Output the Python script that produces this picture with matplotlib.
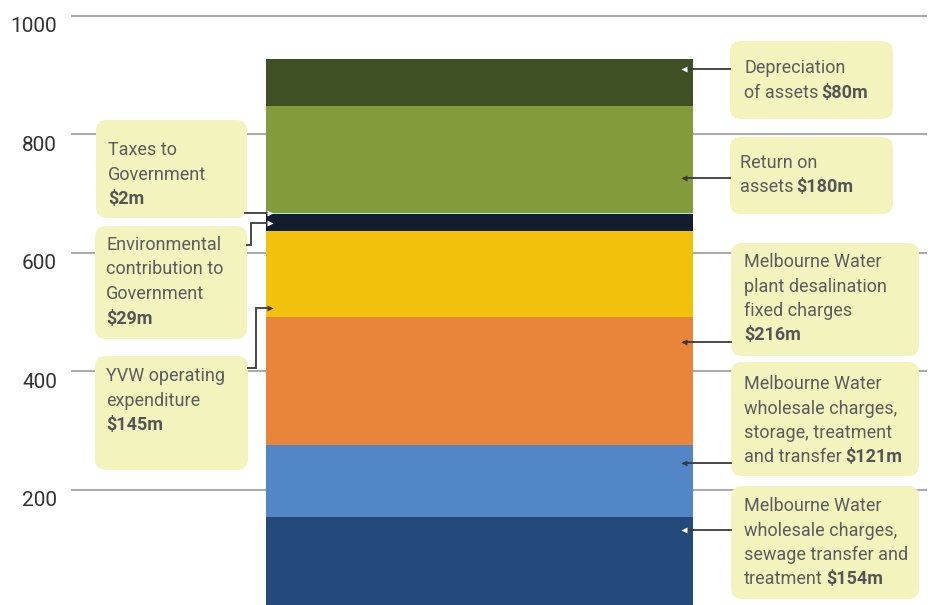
import matplotlib
matplotlib.use("Agg")
import matplotlib.pyplot as plt
from matplotlib.patches import FancyBboxPatch
from matplotlib.transforms import blended_transform_factory

# ---------- data ----------
segments = ["Sewage transfer and treatment", "Storage, treatment and transfer",
            "Desalination fixed charges", "YVW operating expenditure",
            "Environmental contribution", "Taxes to Government",
            "Return on assets", "Depreciation of assets"]
values = [154, 121, 216, 145, 29, 2, 180, 80]
colors = ["#234A7A", "#5386C6", "#E8853A", "#F2C10B",
          "#101E30", "#B8E2D6", "#849B3C", "#3F5124"]
ticks = [200, 400, 600, 800, 1000]

# annotation text: lines of (regular, bold)
box_lines = {
    "Depreciation of assets": [("Depreciation", ""), ("of assets", "$80m")],
    "Return on assets": [("Return on", ""), ("assets", "$180m")],
    "Desalination fixed charges": [("Melbourne Water", ""), ("plant desalination", ""),
                                   ("fixed charges", ""), ("", "$216m")],
    "Storage, treatment and transfer": [("Melbourne Water", ""), ("wholesale charges,", ""),
                                        ("storage, treatment", ""), ("and transfer", "$121m")],
    "Sewage transfer and treatment": [("Melbourne Water", ""), ("wholesale charges,", ""),
                                      ("sewage transfer and", ""), ("treatment", "$154m")],
    "Taxes to Government": [("Taxes to", ""), ("Government", ""), ("", "$2m")],
    "Environmental contribution": [("Environmental", ""), ("contribution to", ""),
                                   ("Government", ""), ("", "$29m")],
    "YVW operating expenditure": [("YVW operating", ""), ("expenditure", ""), ("", "$145m")],
}

# layout of boxes in pixels: (x0, y0, x1, y1, text_x, first_line_y)
box_layout = {
    "Depreciation of assets": (730, 41, 893, 119, 744, 68),
    "Return on assets": (730, 137, 893, 214, 740, 163),
    "Desalination fixed charges": (731, 243, 919, 356, 744, 262),
    "Storage, treatment and transfer": (731, 362, 919, 476, 744, 384),
    "Sewage transfer and treatment": (731, 486, 919, 599, 744, 506),
    "Taxes to Government": (96, 120, 247, 218, 108, 150),
    "Environmental contribution": (95, 226, 247, 339, 106, 245),
    "YVW operating expenditure": (95, 356, 248, 470, 106, 376),
}
# connector paths (pixels), arrowhead marker and colour
connectors = {
    "Depreciation of assets": ([(730, 69), (684, 69)], "<", "white"),
    "Return on assets": ([(730, 178), (684, 178)], "<", "#3a3a3a"),
    "Desalination fixed charges": ([(731, 342), (684, 342)], "<", "#3a3a3a"),
    "Storage, treatment and transfer": ([(731, 463), (684, 463)], "<", "#3a3a3a"),
    "Sewage transfer and treatment": ([(731, 530), (684, 530)], "<", "white"),
    "Taxes to Government": ([(245, 213), (270, 213)], ">", "white"),
    "Environmental contribution": ([(247, 245), (251, 245), (251, 223), (270, 223)], ">", "white"),
    "YVW operating expenditure": ([(248, 368), (256, 368), (256, 308), (270, 308)], ">", "#3a3a3a"),
}

W, H = 933, 605
FONT = "Roboto"
TEXT_C = "#5c5c5c"
BOX_C = "#F3F3BE"
LINE_H = 24.5

fig = plt.figure(figsize=(W / 100, H / 100), dpi=100)
ax = fig.add_axes([0, 0, 1, 1])
ax.set_xlim(-479.5 / 427, (W - 479.5) / 427)
ax.set_ylim(5.4, 1026.5)
ax.axis("off")

# gridlines + tick labels
for t in ticks:
    ax.axhline(t, xmin=72 / W, xmax=926 / W, color="#ababab", lw=1.5, zorder=0)
    ax.annotate(str(t), xy=(57 / W, t),
                xycoords=blended_transform_factory(ax.transAxes, ax.transData),
                xytext=(0, -12), textcoords="offset points",
                ha="right", va="baseline", fontsize=15, color="#333333", family=FONT)

# stacked bar
bottom = 0
for name, v, c in zip(segments, values, colors):
    ax.bar(0, v, bottom=bottom, width=1, color=c, linewidth=0, zorder=2)
    bottom += v

# overlay in pixel coordinates for annotation boxes
ov = fig.add_axes([0, 0, 1, 1], zorder=3)
ov.set_xlim(0, W)
ov.set_ylim(H, 0)
ov.axis("off")
ov.patch.set_alpha(0)

renderer = fig.canvas.get_renderer()

for name in segments:
    x0, y0, x1, y1, tx, ty = box_layout[name]
    ov.add_patch(FancyBboxPatch((x0, y0), x1 - x0, y1 - y0,
                                boxstyle="round,pad=0,rounding_size=11",
                                fc=BOX_C, ec="none", zorder=1))
    for i, (reg, bold) in enumerate(box_lines[name]):
        y = ty + i * LINE_H
        x = tx
        if reg:
            t = ov.text(x, y, reg, ha="left", va="center", fontsize=13,
                        color=TEXT_C, family=FONT, zorder=3)
            ext = t.get_window_extent(renderer=renderer)
            x = ext.x1 + 3
        if bold:
            ov.text(x, y, bold, ha="left", va="center", fontsize=13,
                    color="#555555", family=FONT, fontweight="bold", zorder=3)
    pts, mk, mc = connectors[name]
    xs = [p[0] for p in pts]
    ys = [p[1] for p in pts]
    ov.plot(xs, ys, color="#3a3a3a", lw=1.3, zorder=2, solid_joinstyle="miter")
    ov.plot(xs[-1], ys[-1], marker=mk, ms=5, color=mc, mec="none", zorder=4)

fig.savefig("out.png", dpi=100)
